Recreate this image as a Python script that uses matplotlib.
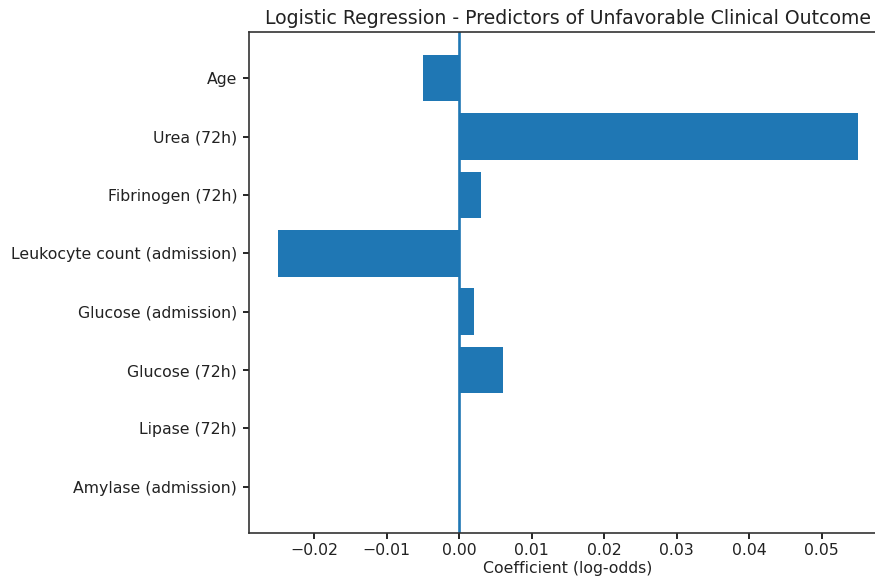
import matplotlib
matplotlib.use("Agg")
import matplotlib.pyplot as plt

# predictors, top to bottom as shown
predictors = [
    "Age",
    "Urea (72h)",
    "Fibrinogen (72h)",
    "Leukocyte count (admission)",
    "Glucose (admission)",
    "Glucose (72h)",
    "Lipase (72h)",
    "Amylase (admission)",
]
coefficients = [-0.005, 0.055, 0.003, -0.025, 0.002, 0.006, 0.0, 0.0]

fig = plt.figure(figsize=(8.75, 5.78), dpi=100)
# the reference is cropped on the right, so the axes run past the edge
ax = fig.add_axes([249 / 875, 45 / 578, 638 / 875, 501 / 578])

ax.barh(predictors[::-1], coefficients[::-1], color="#1f77b4")
ax.axvline(0, color="#1f77b4", linewidth=1.9)

ax.set_title("Logistic Regression - Predictors of Unfavorable Clinical Outcome",
             fontsize=13.6, color="#222222")
ax.set_xlabel("Coefficient (log-odds)", fontsize=11.3, color="#222222", labelpad=1.5)
ax.tick_params(axis="x", pad=3)
ax.tick_params(labelsize=11.3, width=1.2, length=4.5, labelcolor="#222222")
ax.tick_params(axis="y", pad=4)
for s in ax.spines.values():
    s.set_linewidth(1.2)
    s.set_color("#333333")

fig.savefig("out.png", dpi=100)
